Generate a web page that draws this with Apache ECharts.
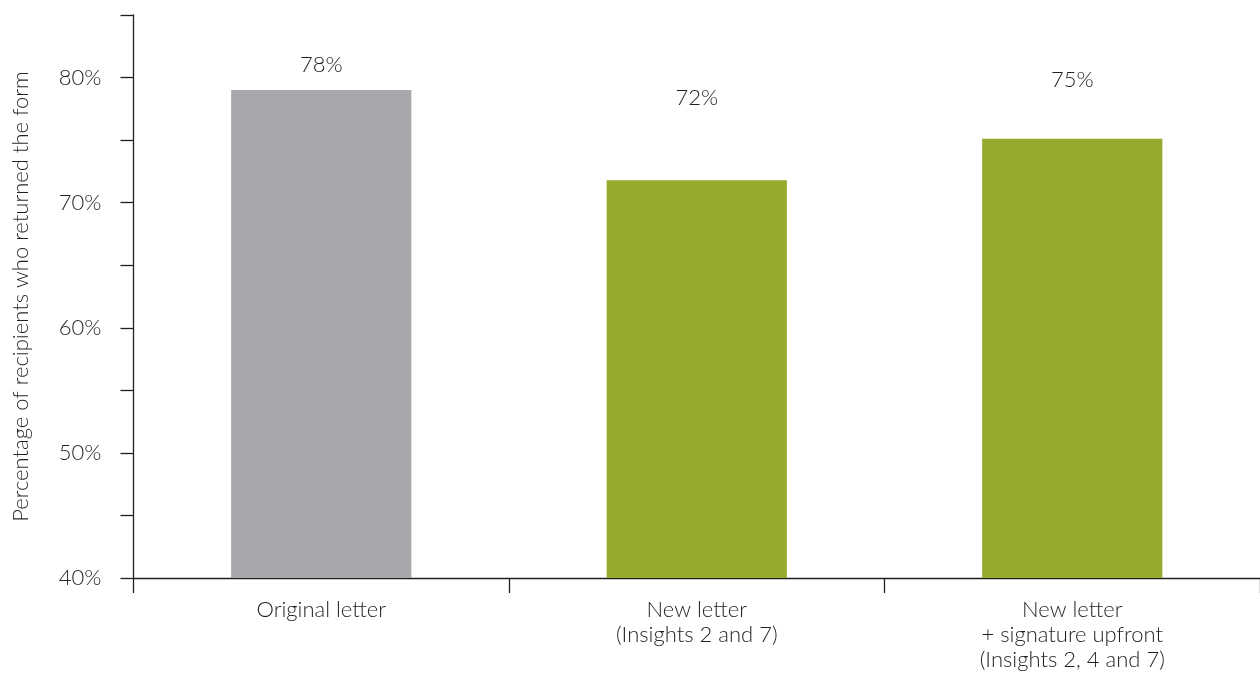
<!DOCTYPE html>
<html>
<head>
<meta charset="utf-8">
<script src="https://cdn.jsdelivr.net/npm/echarts@6/dist/echarts.min.js"></script>
<style>html,body{margin:0;padding:0;background:#fff}#c{width:1260px;height:677px}</style>
</head>
<body>
<div id="c"></div>
<script>
const categories = ['Original letter', 'New letter\n(Insights 2 and 7)', 'New letter\n+ signature upfront\n(Insights 2, 4 and 7)'];
const barValues = [79.0, 71.8, 75.1];
const labelTexts = ['78%', '72%', '75%'];
const barColors = ['#A7A8AB', '#97AA2E', '#97AA2E'];
const yTickLabels = { 40: '40%', 50: '50%', 60: '60%', 70: '70%', 80: '80%' };
const labelDistances = [14, 71, 48];

const FONT = 'Lato, "Open Sans", sans-serif';
const TXT = '#231F20';

const chart = echarts.init(document.getElementById('c'), null, { renderer: 'canvas' });
chart.setOption({
  animation: false,
  grid: { left: 133.5, width: 1128, top: 15, bottom: 99, containLabel: false },
  xAxis: {
    type: 'category',
    data: categories,
    axisLine: { show: true, lineStyle: { color: '#231F20', width: 1.3 } },
    axisTick: { show: true, alignWithLabel: false, length: 15, lineStyle: { color: '#231F20', width: 1.3 } },
    axisLabel: { color: TXT, fontFamily: FONT, fontSize: 22, fontWeight: 300, lineHeight: 25, margin: 19, interval: 0 },
    splitLine: { show: false }
  },
  yAxis: {
    type: 'value',
    min: 40, max: 85, interval: 5,
    name: 'Percentage of recipients who returned the form',
    nameLocation: 'middle',
    nameGap: 102,
    nameRotate: 90,
    nameTextStyle: { color: TXT, fontFamily: FONT, fontSize: 22, fontWeight: 300 },
    axisLine: { show: true, lineStyle: { color: '#231F20', width: 1.3 } },
    axisTick: { show: true, length: 13, lineStyle: { color: '#231F20', width: 1.3 } },
    axisLabel: {
      color: TXT, fontFamily: FONT, fontSize: 22, fontWeight: 300, margin: 32,
      formatter: v => yTickLabels[v] || ''
    },
    splitLine: { show: false }
  },
  series: [{
    type: 'bar',
    barWidth: '48%',
    data: barValues.map((v, i) => ({
      value: v,
      itemStyle: { color: barColors[i] },
      label: {
        show: true, position: 'top', distance: labelDistances[i],
        formatter: labelTexts[i],
        color: TXT, fontFamily: FONT, fontSize: 22, fontWeight: 300
      }
    }))
  }]
});
</script>
</body>
</html>
